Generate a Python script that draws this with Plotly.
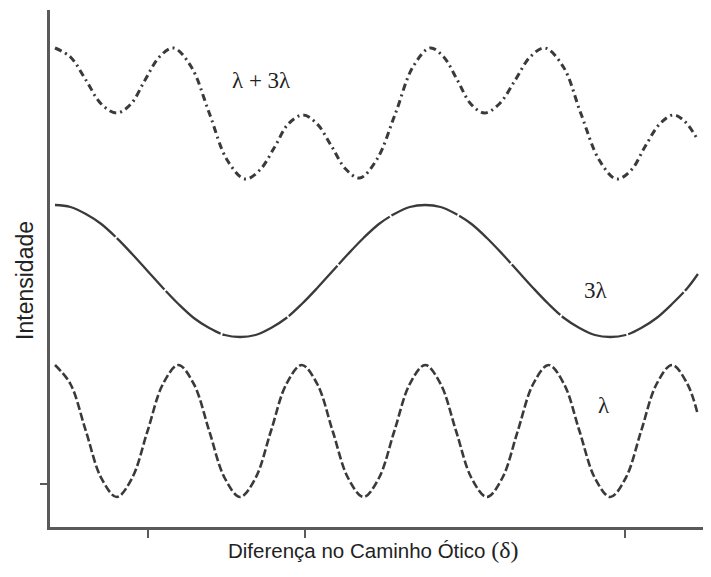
import plotly.graph_objects as go

# Optical path difference (units of lambda)
x_grid = [0.0, 0.125, 0.25, 0.375, 0.5, 0.625, 0.75, 0.875,
          1.0, 1.125, 1.25, 1.375, 1.5, 1.625, 1.75, 1.875,
          2.0, 2.125, 2.25, 2.375, 2.5, 2.625, 2.75, 2.875,
          3.0, 3.125, 3.25, 3.375, 3.5, 3.625, 3.75, 3.875,
          4.0, 4.125, 4.25, 4.375, 4.5, 4.625, 4.75, 4.875,
          5.0, 5.125, 5.21]

# Intensity of the lambda wave (bottom)
y_lambda = [1.63, 1.44, 0.97, 0.50, 0.31, 0.50, 0.97, 1.44,
            1.63, 1.44, 0.97, 0.50, 0.31, 0.50, 0.97, 1.44,
            1.63, 1.44, 0.97, 0.50, 0.31, 0.50, 0.97, 1.44,
            1.63, 1.44, 0.97, 0.50, 0.31, 0.50, 0.97, 1.44,
            1.63, 1.44, 0.97, 0.50, 0.31, 0.50, 0.97, 1.44,
            1.63, 1.44, 1.13]

# Intensity of the 3-lambda wave (middle)
y_3lambda = [3.23, 3.21, 3.14, 3.04, 2.90, 2.74, 2.57, 2.40,
             2.24, 2.10, 2.00, 1.93, 1.91, 1.93, 2.00, 2.10,
             2.24, 2.40, 2.57, 2.74, 2.90, 3.04, 3.14, 3.21,
             3.23, 3.21, 3.14, 3.04, 2.90, 2.74, 2.57, 2.40,
             2.24, 2.10, 2.00, 1.93, 1.91, 1.93, 2.00, 2.10,
             2.24, 2.40, 2.54]

# Combined lambda + 3 lambda (top)
x_sum = [0.00, 0.125, 0.25, 0.375, 0.50, 0.615, 0.73, 0.845, 0.96, 1.105,
         1.25, 1.395, 1.54, 1.66, 1.78, 1.89, 2.01, 2.125, 2.24, 2.355,
         2.47, 2.61, 2.76, 2.90, 3.04, 3.15, 3.26, 3.37, 3.48, 3.60,
         3.73, 3.85, 3.97, 4.12, 4.26, 4.41, 4.55, 4.67, 4.78, 4.90,
         5.01, 5.10, 5.20]
y_sum = [4.80, 4.71, 4.48, 4.24, 4.15, 4.24, 4.48, 4.71, 4.80, 4.61,
         4.15, 3.68, 3.49, 3.58, 3.81, 4.04, 4.13, 4.04, 3.82, 3.59,
         3.50, 3.69, 4.15, 4.61, 4.80, 4.71, 4.48, 4.24, 4.15, 4.24,
         4.48, 4.71, 4.80, 4.61, 4.15, 3.68, 3.49, 3.58, 3.81, 4.04,
         4.13, 4.07, 3.90]

x_ticks = [0.754, 2.026, 4.619]
y_ticks = [0.44]

labels = ["λ + 3λ", "3λ", "λ"]
label_x = [1.677, 4.384, 4.449]
label_y = [4.48, 2.38, 1.23]

line_col = "#3a3a3a"
axis_col = "#5a5a5a"

fig = go.Figure()
fig.add_trace(go.Scatter(x=x_grid, y=y_lambda, mode="lines", line_shape="spline",
                         line=dict(color=line_col, width=2.6, dash="8px,3px"),
                         showlegend=False, hoverinfo="skip"))
fig.add_trace(go.Scatter(x=x_grid, y=y_3lambda, mode="lines", line_shape="spline",
                         line=dict(color=line_col, width=2.3, dash="70px,2px"),
                         showlegend=False, hoverinfo="skip"))
fig.add_trace(go.Scatter(x=x_sum, y=y_sum, mode="lines", line_shape="spline",
                         line=dict(color=line_col, width=3, dash="7px,4px,2px,4px"),
                         showlegend=False, hoverinfo="skip"))

for t, lx, ly in zip(labels, label_x, label_y):
    fig.add_annotation(x=lx, y=ly, xref="x", yref="y", text=t, showarrow=False,
                       font=dict(family="Liberation Serif", size=23, color="#222222"),
                       xanchor="center", yanchor="middle")

fig.add_annotation(x=0.489, y=-0.0445, xref="paper", yref="paper",
                   text="Diferença no Caminho Ótico <span style='font-family:Liberation Serif;font-size:24px'>(δ)</span>",
                   showarrow=False, xanchor="center", yanchor="middle",
                   font=dict(family="Liberation Sans", size=20.5, color="#222222"))
fig.add_annotation(x=-0.0378, y=0.476, xref="paper", yref="paper",
                   text="Intensidade", textangle=-90, showarrow=False,
                   xanchor="center", yanchor="middle",
                   font=dict(family="Liberation Sans", size=23, color="#222222"))

fig.update_layout(
    width=703, height=569,
    margin=dict(l=42, r=0, t=2, b=50),
    paper_bgcolor="white", plot_bgcolor="white",
    xaxis=dict(range=[-0.0405, 5.316], showgrid=False, zeroline=False,
               showline=True, linewidth=3, linecolor=axis_col,
               ticks="outside", ticklen=8, tickwidth=2, tickcolor=axis_col,
               tickvals=x_ticks, showticklabels=False),
    yaxis=dict(range=[0.01, 5.18], showgrid=False, zeroline=False,
               showline=True, linewidth=3, linecolor=axis_col,
               ticks="outside", ticklen=7, tickwidth=2, tickcolor=axis_col,
               tickvals=y_ticks, showticklabels=False),
)

fig.write_html("out.html")
